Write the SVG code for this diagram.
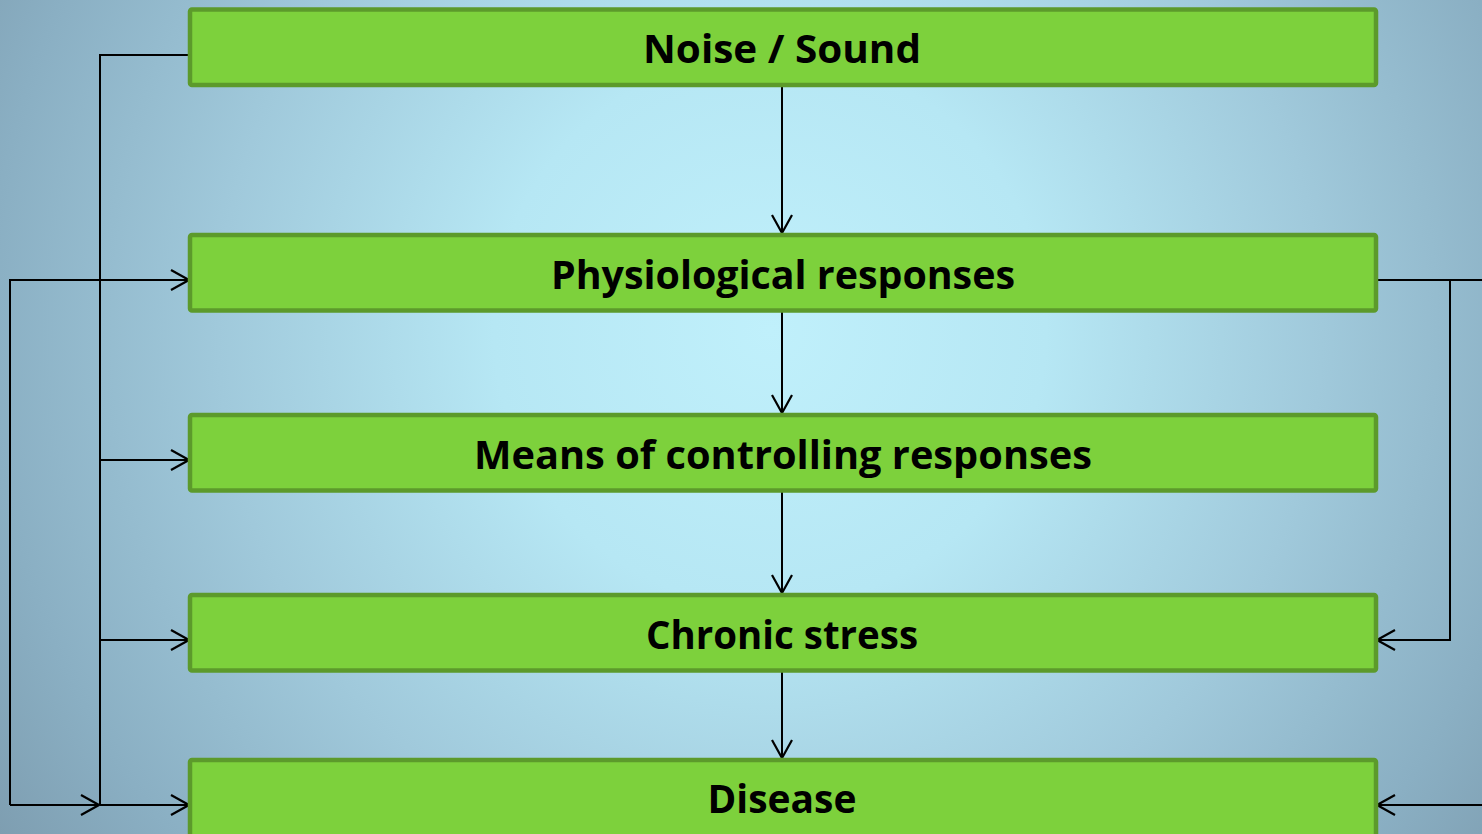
<svg xmlns="http://www.w3.org/2000/svg" width="1482" height="834" viewBox="0 0 1482 834">
  <defs>
    <radialGradient id="bg" gradientUnits="userSpaceOnUse" cx="770" cy="330" r="920">
      <stop offset="0" stop-color="#c0f0fb"/>
      <stop offset="0.3" stop-color="#b6e7f4"/>
      <stop offset="0.6" stop-color="#a0c9db"/>
      <stop offset="0.85" stop-color="#8aafc3"/>
      <stop offset="1" stop-color="#7e9eb1"/>
    </radialGradient>
    <marker id="arr" viewBox="0 0 20 22" refX="19" refY="11" markerWidth="20" markerHeight="22" markerUnits="userSpaceOnUse" orient="auto">
      <path d="M1 1 L19 11 L1 21" fill="none" stroke="#000" stroke-width="2.2"/>
    </marker>
    <style>
      .box { fill: #7dd13c; stroke: #5c9a2b; stroke-width: 4.5; }
      .lbl { font-family: "Open Sans", "Noto Sans", "Liberation Sans", sans-serif; font-weight: bold; font-size: 40px; fill: #000; text-anchor: middle; }
      .ln { fill: none; stroke: #000; stroke-width: 2; }
      .ar { fill: none; stroke: #000; stroke-width: 2; marker-end: url(#arr); }
    </style>
  </defs>

  <rect x="0" y="0" width="1482" height="834" fill="url(#bg)"/>

  <g id="connectors">
    <!-- vertical chain -->
    <path class="ar" d="M782 86 V233"/>
    <path class="ar" d="M782 312 V413"/>
    <path class="ar" d="M782 492 V593"/>
    <path class="ar" d="M782 672 V758"/>
    <!-- left feedback from noise -->
    <path class="ln" d="M190 55 H100 V805"/>
    <path class="ar" d="M100 460 H189"/>
    <path class="ar" d="M100 640 H189"/>
    <path class="ar" d="M100 805 H189"/>
    <!-- outer left loop -->
    <path class="ln" d="M189 280 H10 V805"/>
    <path class="ar" d="M100 280 H189"/>
    <path class="ar" d="M10 805 H99"/>
    <!-- right side -->
    <path class="ln" d="M1377 280 H1482"/>
    <path class="ar" d="M1450 280 V640 H1377"/>
    <path class="ar" d="M1482 805 H1377"/>
  </g>

  <g id="noise">
    <rect class="box" x="190" y="9.5" width="1186" height="75.5" rx="2"/>
    <text class="lbl" x="782" y="63" textLength="278" lengthAdjust="spacingAndGlyphs">Noise / Sound</text>
  </g>
  <g id="physiological">
    <rect class="box" x="190" y="235" width="1186" height="75.5" rx="2"/>
    <text class="lbl" x="783" y="289" textLength="464" lengthAdjust="spacingAndGlyphs">Physiological responses</text>
  </g>
  <g id="controlling">
    <rect class="box" x="190" y="415" width="1186" height="75.5" rx="2"/>
    <text class="lbl" x="783" y="469" textLength="618" lengthAdjust="spacingAndGlyphs">Means of controlling responses</text>
  </g>
  <g id="stress">
    <rect class="box" x="190" y="595" width="1186" height="75.5" rx="2"/>
    <text class="lbl" x="782" y="649" textLength="272" lengthAdjust="spacingAndGlyphs">Chronic stress</text>
  </g>
  <g id="disease">
    <rect class="box" x="190" y="760" width="1186" height="80" rx="2"/>
    <text class="lbl" x="782" y="813" textLength="149" lengthAdjust="spacingAndGlyphs">Disease</text>
  </g>
</svg>
